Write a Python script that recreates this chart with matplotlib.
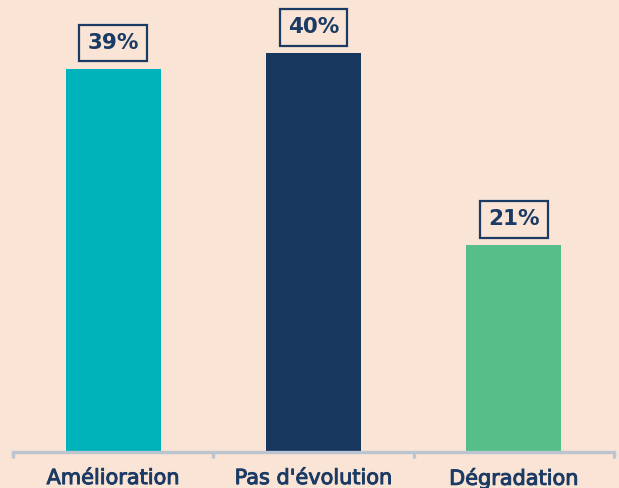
import matplotlib.pyplot as plt
import matplotlib.patheffects as pe

# Data (bar heights; labels show rounded values)
categories = ['Amélioration', "Pas d'évolution", 'Dégradation']
values = [38.6, 40.2, 20.8]
labels = ['39%', '40%', '21%']
colors = ['#00b3ba', '#17375f', '#56be89']

BG = '#f9e4d5'
NAVY = '#1b3a64'
AXIS_GRAY = '#bcc4d0'

fig = plt.figure(figsize=(6.19, 4.88), dpi=100)
fig.patch.set_facecolor(BG)
ax = fig.add_axes([13 / 619, 1 - 451 / 488, 601 / 619, 451 / 488])
ax.set_facecolor(BG)

x = range(len(categories))
ax.bar(x, values, width=0.475, color=colors, zorder=2)

ax.set_xlim(-0.5, len(categories) - 0.5)
ax.set_ylim(0, 45.56)

# Value labels in outlined boxes
for xi, v, lab in zip(x, values, labels):
    ax.annotate(lab, xy=(xi, v), xytext=(0, 18.5), textcoords='offset points',
                ha='center', va='center', fontsize=15.5, fontweight='bold', color=NAVY,
                bbox=dict(boxstyle='square,pad=0.38', facecolor='none',
                          edgecolor=NAVY, linewidth=1.6))

# Axis styling
for side in ['top', 'right', 'left']:
    ax.spines[side].set_visible(False)
ax.spines['bottom'].set_color(AXIS_GRAY)
ax.spines['bottom'].set_linewidth(2.4)
ax.spines['bottom'].set_position(('outward', 1))
ax.set_yticks([])

# boundary ticks between categories
ax.set_xticks([-0.5, 0.5, 1.5, 2.5])
ax.set_xticklabels([])
ax.tick_params(axis='x', direction='out', length=4.5, width=2.4, color=AXIS_GRAY)

for xi, cat in zip(x, categories):
    ax.text(xi, -0.06, cat, transform=ax.get_xaxis_transform(), ha='center', va='center',
            fontsize=15, color=NAVY,
            path_effects=[pe.withStroke(linewidth=0.7, foreground=NAVY)])

fig.savefig('out.png', dpi=100, facecolor=BG)
